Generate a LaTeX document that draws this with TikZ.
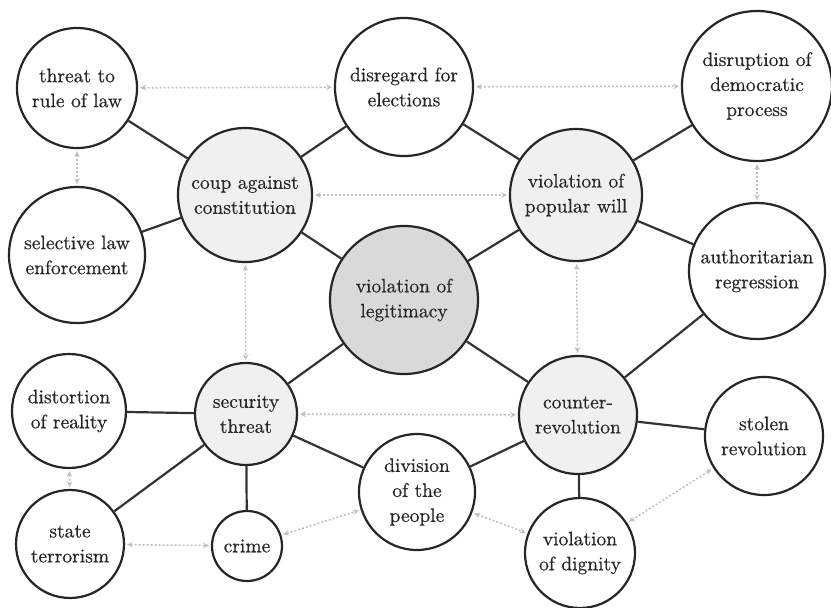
\documentclass[tikz,border=0pt]{standalone}
\usepackage{fontspec}
\newfontfamily\nodefont{lmroman10-regular.otf}[FakeBold=0.5]
\usetikzlibrary{shapes.geometric, arrows}

\begin{document}
\begin{tikzpicture}[x=1pt, y=-1pt]
\tikzstyle{concept} = [circle, draw=black!85, line width=2.2pt, fill=white, inner sep=0pt, align=center, text=black!85, font=\nodefont\fontsize{19.5}{25}\selectfont]
\tikzstyle{hub} = [concept, fill=gray!12]
\tikzstyle{core} = [concept, fill=gray!30]
\tikzstyle{tie} = [line width=2.2pt, draw=black!80]
\tikzstyle{link} = [<->, >=stealth, dash pattern=on 2pt off 2pt, line width=1.5pt, draw=gray!50, shorten >=2pt, shorten <=2pt]

\useasboundingbox (0,0) rectangle (831,608);

\node (legitimacy) [core, minimum size=148pt] at (404,300) {violation of\\legitimacy};
\node (coup) [hub, minimum size=134pt] at (245,195) {coup against\\constitution};
\node (popwill) [hub, minimum size=132pt] at (576,195) {violation of\\popular will};
\node (security) [hub, minimum size=102pt] at (246,414) {security\\threat};
\node (counter) [hub, minimum size=118pt] at (578,415) {counter-\\revolution};
\node (rulelaw) [concept, minimum size=120pt] at (77,88) {threat to\\rule of law};
\node (elections) [concept, minimum size=138pt] at (404,87) {disregard for\\elections};
\node (disruption) [concept, minimum size=150pt] at (757,86) {disruption of\\democratic\\process};
\node (selective) [concept, minimum size=136pt] at (77,255) {selective law\\enforcement};
\node (regression) [concept, minimum size=136pt] at (757,271) {authoritarian\\regression};
\node (distortion) [concept, minimum size=114pt] at (69,411) {distortion\\of reality};
\node (stolen) [concept, minimum size=118pt] at (764,436) {stolen\\revolution};
\node (division) [concept, minimum size=116pt] at (417,492) {division\\of the\\people};
\node (terrorism) [concept, minimum size=108pt] at (70,544) {state\\terrorism};
\node (crime) [concept, minimum size=70pt] at (247,546) {crime};
\node (dignity) [concept, minimum size=110pt] at (580,553) {violation\\of dignity};

% solid ties
\draw [tie] (rulelaw) -- (coup);
\draw [tie] (selective) -- (coup);
\draw [tie] (coup) -- (elections);
\draw [tie] (coup) -- (legitimacy);
\draw [tie] (elections) -- (popwill);
\draw [tie] (popwill) -- (disruption);
\draw [tie] (popwill) -- (regression);
\draw [tie] (popwill) -- (legitimacy);
\draw [tie] (legitimacy) -- (security);
\draw [tie] (legitimacy) -- (counter);
\draw [tie] (regression) -- (counter);
\draw [tie] (counter) -- (stolen);
\draw [tie] (counter) -- (division);
\draw [tie] (counter) -- (dignity);
\draw [tie] (security) -- (distortion);
\draw [tie] (security) -- (terrorism);
\draw [tie] (security) -- (crime);
\draw [tie] (security) -- (division);

% dotted links
\draw [link] (rulelaw) -- (elections);
\draw [link] (elections) -- (disruption);
\draw [link] (rulelaw) -- (selective);
\draw [link] (coup) -- (popwill);
\draw [link] (coup) -- (security);
\draw [link] (popwill) -- (counter);
\draw [link] (disruption) -- (regression);
\draw [link] (security) -- (counter);
\draw [link] (distortion) -- (terrorism);
\draw [link] (terrorism) -- (crime);
\draw [link] (crime) -- (division);
\draw [link] (division) -- (dignity);
\draw [link] (dignity) -- (stolen);

\end{tikzpicture}
\end{document}
